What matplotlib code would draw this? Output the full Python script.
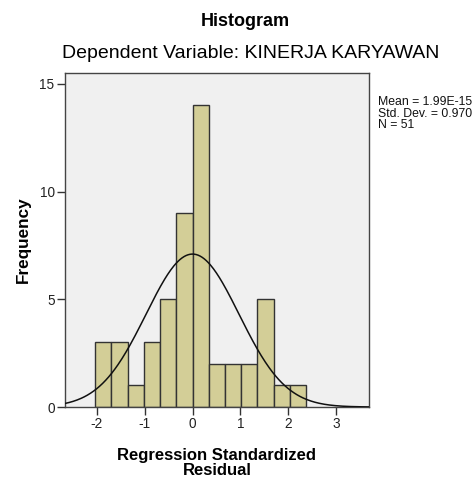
import numpy as np
import matplotlib
matplotlib.use('Agg')
import matplotlib.pyplot as plt

plt.rcParams['font.family'] = ['Liberation Sans', 'DejaVu Sans']
plt.rcParams['axes.unicode_minus'] = False

# histogram bins (regression standardized residual)
bin_width = 0.3385
bin_edges = [i * bin_width for i in range(-6, 8)]
counts = [3, 3, 1, 3, 5, 9, 14, 2, 2, 2, 5, 1, 1]

mean = 1.99e-15
std = 0.970
n = 51
stats_lines = ['Mean = 1.99E-15', 'Std. Dev. = 0.970', 'N = 51']

x_ticks = [-2, -1, 0, 1, 2, 3]
y_ticks = [0, 5, 10, 15]

fig = plt.figure(figsize=(4.75, 4.78), dpi=100)
ax = fig.add_axes([0.1368, 0.1485, 0.64, 0.6985])
ax.set_facecolor('#F0F0F0')

ax.bar(bin_edges[:-1], counts, width=bin_width, align='edge',
       color='#D3CE97', edgecolor='#333333', linewidth=1.0, zorder=2)

# normal curve from the reported mean / std dev
xmin, xmax = -2.66, 3.68
xs = np.linspace(xmin, xmax, 300)
curve = n * bin_width * np.exp(-0.5 * ((xs - mean) / std) ** 2) / (std * np.sqrt(2 * np.pi))
ax.plot(xs, curve, color='#111111', lw=1.1, zorder=3)

ax.set_xlim(xmin, xmax)
ax.set_ylim(0, 15.5)
ax.set_xticks(x_ticks)
ax.set_yticks(y_ticks)
ax.tick_params(direction='out', length=6, width=1, colors='#333333',
               labelsize=9.8, labelcolor='#222222', pad=1.5)
for s in ax.spines.values():
    s.set_color('#444444')
    s.set_linewidth(1.0)

ax.set_ylabel('Frequency', fontsize=12.3, fontweight='bold', labelpad=6)
ax.set_xlabel('Regression Standardized\nResidual', fontsize=12,
              fontweight='bold', labelpad=12, linespacing=0.95)

fig.text(245 / 475, 1 - 22 / 478, 'Histogram', ha='center', va='center',
         fontsize=13, fontweight='bold')
fig.text(251 / 475, 1 - 53 / 478, 'Dependent Variable: KINERJA KARYAWAN',
         ha='center', va='center', fontsize=14)

fig.text(378 / 475, 1 - 96 / 478, '\n'.join(stats_lines), ha='left', va='top',
         fontsize=8.8, linespacing=0.95, color='#111111')

fig.savefig('out.png', dpi=100)
